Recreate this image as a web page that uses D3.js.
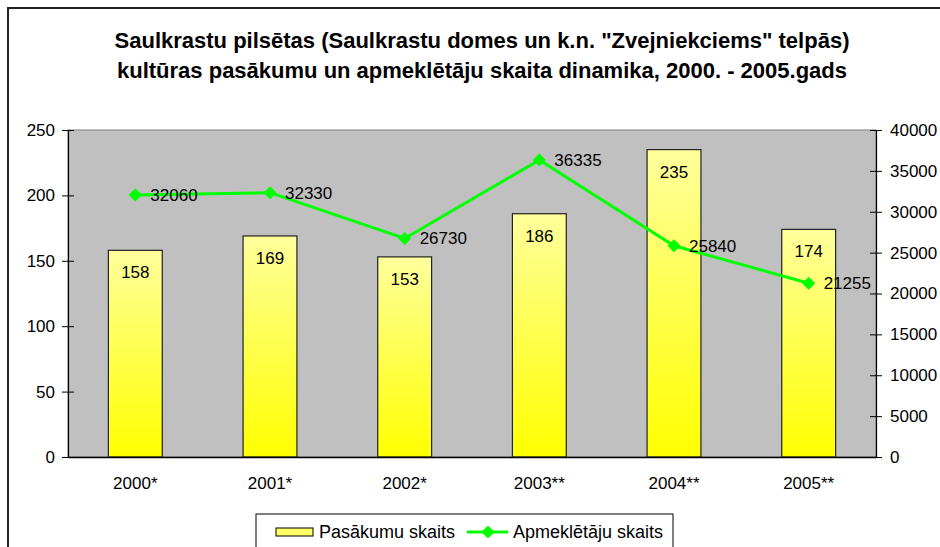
<!DOCTYPE html>
<html>
<head>
<meta charset="utf-8">
<script src="https://cdn.jsdelivr.net/npm/d3@7"></script>
<style>
  body { margin: 0; background: #fff; }
  text { font-family: "Liberation Sans", Arial, sans-serif; fill: #000; }
</style>
</head>
<body>
<div id="chart"></div>
<script>
// data
var categories = ["2000*", "2001*", "2002*", "2003**", "2004**", "2005**"];
var events = [158, 169, 153, 186, 235, 174];          // Pasākumu skaits
var visitors = [32060, 32330, 26730, 36335, 25840, 21255]; // Apmeklētāju skaits
var leftTicks = [0, 50, 100, 150, 200, 250];
var rightTicks = [0, 5000, 10000, 15000, 20000, 25000, 30000, 35000, 40000];
var titleLines = [
  "Saulkrastu pilsētas (Saulkrastu domes un k.n. \"Zvejniekciems\" telpās)",
  "kultūras pasākumu un apmeklētāju skaita dinamika, 2000. - 2005.gads"
];
var legendNames = ["Pasākumu skaits", "Apmeklētāju skaits"];

var width = 940, height = 547;
var plot = { left: 68, right: 876, top: 130, bottom: 457 };
var fs = "17px";

var svg = d3.select("#chart").append("svg")
  .attr("width", width)
  .attr("height", height);

// gradient for bars
var defs = svg.append("defs");
var grad = defs.append("linearGradient")
  .attr("id", "barGrad")
  .attr("x1", 0).attr("y1", 0).attr("x2", 0).attr("y2", 1);
grad.append("stop").attr("offset", "0%").attr("stop-color", "#ffff9c");
grad.append("stop").attr("offset", "100%").attr("stop-color", "#ffff00");

// chart frame
svg.append("rect")
  .attr("x", 8).attr("y", 8)
  .attr("width", 960).attr("height", 560)
  .attr("fill", "#fff")
  .attr("stroke", "#222")
  .attr("stroke-width", 2);

// title
svg.append("g").selectAll("text")
  .data(titleLines)
  .enter().append("text")
  .attr("x", 482)
  .attr("y", function (d, i) { return 48 + i * 30; })
  .attr("text-anchor", "middle")
  .style("font-size", "22px")
  .style("font-weight", "bold")
  .text(function (d) { return d; });

// scales
var x = d3.scaleBand()
  .domain(categories)
  .range([plot.left, plot.right])
  .paddingInner(0.6)
  .paddingOuter(0.3);

var yLeft = d3.scaleLinear().domain([0, 250]).range([plot.bottom, plot.top]);
var yRight = d3.scaleLinear().domain([0, 40000]).range([plot.bottom, plot.top]);

// plot area
svg.append("rect")
  .attr("x", plot.left).attr("y", plot.top)
  .attr("width", plot.right - plot.left)
  .attr("height", plot.bottom - plot.top)
  .attr("fill", "#c0c0c0")
  .attr("stroke", "#808080")
  .attr("stroke-width", 1);

// bars
var bars = svg.append("g");
bars.selectAll("rect")
  .data(events)
  .enter().append("rect")
  .attr("x", function (d, i) { return x(categories[i]); })
  .attr("y", function (d) { return yLeft(d); })
  .attr("width", x.bandwidth())
  .attr("height", function (d) { return plot.bottom - yLeft(d); })
  .attr("fill", "url(#barGrad)")
  .attr("stroke", "#222")
  .attr("stroke-width", 1.2);

bars.selectAll("text")
  .data(events)
  .enter().append("text")
  .attr("x", function (d, i) { return x(categories[i]) + x.bandwidth() / 2; })
  .attr("y", function (d) { return yLeft(d) + 28; })
  .attr("text-anchor", "middle")
  .style("font-size", fs)
  .text(function (d) { return d; });

// axes
var leftAxis = d3.axisLeft(yLeft).tickValues(leftTicks).tickSizeInner(6).tickSizeOuter(0).tickPadding(7);
var gl = svg.append("g")
  .attr("transform", "translate(" + plot.left + ",0)")
  .call(leftAxis);

var rightAxis = d3.axisRight(yRight).tickValues(rightTicks).tickFormat(d3.format("d"))
  .tickSizeInner(6).tickSizeOuter(0).tickPadding(8);
var gr = svg.append("g")
  .attr("transform", "translate(" + plot.right + ",0)")
  .call(rightAxis);

// make ticks cross the axis line
[gl, gr].forEach(function (g) {
  g.selectAll(".tick line").attr("x1", -6).attr("x2", 6).attr("stroke", "#000");
  g.select(".domain").attr("stroke", "#000").attr("stroke-width", 1.2);
  g.selectAll("text").style("font-size", fs).style("font-family", "Liberation Sans, Arial, sans-serif");
});
gr.selectAll(".tick text").attr("x", 14);

var bottomAxis = d3.axisBottom(x).tickSize(0).tickPadding(20);
var gb = svg.append("g")
  .attr("transform", "translate(0," + plot.bottom + ")")
  .call(bottomAxis);
gb.select(".domain").attr("stroke", "#000").attr("stroke-width", 1.5);
gb.selectAll("text").style("font-size", fs).style("font-family", "Liberation Sans, Arial, sans-serif");

// line series
var line = d3.line()
  .x(function (d, i) { return x(categories[i]) + x.bandwidth() / 2; })
  .y(function (d) { return yRight(d); });

svg.append("path")
  .datum(visitors)
  .attr("d", line)
  .attr("fill", "none")
  .attr("stroke", "#00ff00")
  .attr("stroke-width", 3);

var diamond = d3.symbol().type(d3.symbolDiamond2).size(110);
var pts = svg.append("g");
pts.selectAll("path")
  .data(visitors)
  .enter().append("path")
  .attr("d", diamond)
  .attr("transform", function (d, i) {
    return "translate(" + (x(categories[i]) + x.bandwidth() / 2) + "," + yRight(d) + ")";
  })
  .attr("fill", "#00ff00");

pts.selectAll("text")
  .data(visitors)
  .enter().append("text")
  .attr("x", function (d, i) { return x(categories[i]) + x.bandwidth() / 2 + 15; })
  .attr("y", function (d) { return yRight(d) + 6; })
  .style("font-size", fs)
  .text(function (d) { return d; });

// legend
var lg = svg.append("g");
lg.append("rect")
  .attr("x", 256).attr("y", 514)
  .attr("width", 417).attr("height", 40)
  .attr("fill", "#fff")
  .attr("stroke", "#000")
  .attr("stroke-width", 1);
lg.append("rect")
  .attr("x", 276).attr("y", 528)
  .attr("width", 37).attr("height", 8)
  .attr("fill", "#ffff66")
  .attr("stroke", "#000");
lg.append("text")
  .attr("x", 319).attr("y", 538)
  .style("font-size", "18px")
  .text(legendNames[0]);
lg.append("line")
  .attr("x1", 467).attr("x2", 508)
  .attr("y1", 532).attr("y2", 532)
  .attr("stroke", "#00ff00")
  .attr("stroke-width", 3);
lg.append("path")
  .attr("d", diamond)
  .attr("transform", "translate(488,532)")
  .attr("fill", "#00ff00");
lg.append("text")
  .attr("x", 513).attr("y", 538)
  .style("font-size", "18px")
  .text(legendNames[1]);
</script>
</body>
</html>
